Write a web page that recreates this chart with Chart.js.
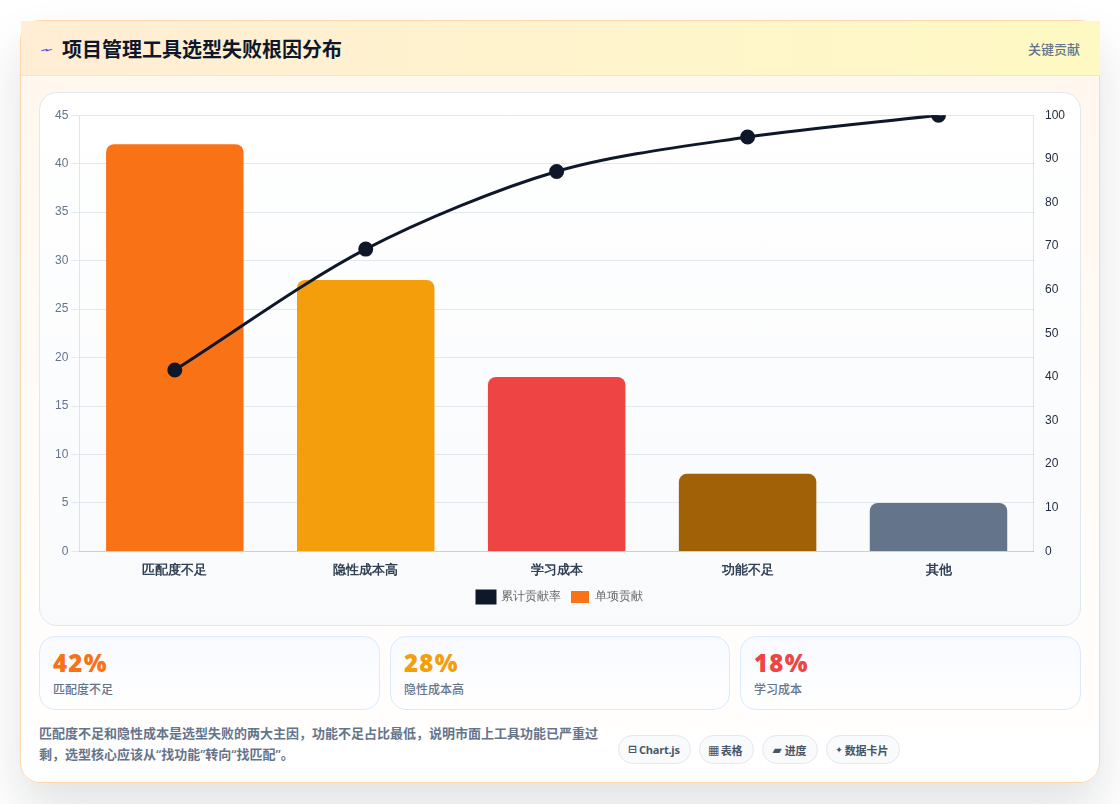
<!DOCTYPE html>
<html><head><meta charset="utf-8">
<script src="https://cdn.jsdelivr.net/npm/chart.js@4"></script>
<style>
*{box-sizing:border-box;margin:0;padding:0}
html,body{width:1120px;height:804px;overflow:hidden;background:#fff;font-family:"Open Sans","Noto Sans CJK SC",sans-serif}
.card{position:absolute;left:20px;top:20px;width:1080px;height:763px;border:1px solid #fed7aa;border-radius:20px;background:linear-gradient(180deg,#fff7ed 0%,#ffffff 100%);box-shadow:0 24px 48px rgba(15,23,42,.13)}
.head{position:absolute;left:0;top:0;width:1079px;height:55px;background:linear-gradient(90deg,#ffedd5,#fef9c3);border-bottom:1px solid #e2e8f0;display:flex;align-items:center;justify-content:space-between;padding:0 20px}
.head h1{font-size:20px;font-weight:700;color:#0f172a;line-height:1;display:flex;align-items:center;padding-top:3px}
.head h1 i{font-style:normal;font-weight:400;color:#4f46e5;margin-right:9px;font-size:20px;font-family:"DejaVu Sans";display:inline-block;transform:scale(1.1,-.5)}
.head span{font-size:13px;color:#64748b;font-weight:500}
.box{position:absolute;left:18px;top:71px;width:1042px;height:534px;border:1px solid #e2e8f0;border-radius:18px;background:linear-gradient(180deg,#fff,#f8fafc);padding:12px}
.box canvas{display:block}
.stat{position:absolute;top:615px;height:74px;border:1px solid #dbeafe;border-radius:16px;background:linear-gradient(180deg,#f8faff,#fff);padding:9px 13px}
.stat b{display:block;font-size:24px;line-height:34px;font-weight:800;letter-spacing:1.3px}
.stat span{display:block;font-size:12px;color:#64748b;line-height:18px;margin-top:1px;font-weight:500}
.note{position:absolute;left:18px;top:702px;width:566px;font-size:13px;line-height:20.8px;font-weight:600;color:#64748b}
.chips{position:absolute;left:597px;top:714px;display:flex;gap:8px}
.chips span{height:29px;border:1px solid #e2e8f0;border-radius:15px;background:#f8fafc;padding:0 10px;font-size:11px;font-weight:700;color:#475569;display:flex;align-items:center;gap:3px;white-space:nowrap}
.chips i{font-style:normal;display:flex;justify-content:center;font-family:"DejaVu Sans";font-weight:700;letter-spacing:0}
</style></head><body>
<div class="card">
 <div class="head"><h1><i>⌁</i>项目管理工具选型失败根因分布</h1><span>关键贡献</span></div>
 <div class="box"><canvas id="c" width="1016" height="508"></canvas></div>
 <div class="stat" style="left:18px;width:341px"><b style="color:#f97316">42%</b><span>匹配度不足</span></div>
 <div class="stat" style="left:369px;width:340px"><b style="color:#f59e0b">28%</b><span>隐性成本高</span></div>
 <div class="stat" style="left:719px;width:341px"><b style="color:#ef4444">18%</b><span>学习成本</span></div>
 <div class="note">匹配度不足和隐性成本是选型失败的两大主因，功能不足占比最低，说明市面上工具功能已严重过剩，选型核心应该从“找功能”转向“找匹配”。</div>
 <div class="chips"><span style="letter-spacing:-.25px"><i style="width:7px;font-size:11px">⊟</i>Chart.js</span><span><i style="width:8px;font-size:12px">▦</i>表格</span><span><i style="width:9px;font-size:12px">▰</i>进度</span><span><i style="width:5px;font-size:9px">✦</i>数据卡片</span></div>
</div>
<script>
const categories=["匹配度不足","隐性成本高","学习成本","功能不足","其他"];
const contribution=[42,28,18,8,5];
const cumulative=[41.6,69.3,87.1,95,100];
const barColors=["#f97316","#f59e0b","#ef4444","#a16207","#64748b"];
const lineColor="#0f172a";
new Chart(document.getElementById("c"),{
 data:{labels:categories,datasets:[
  {type:"line",label:"累计贡献率",data:cumulative,yAxisID:"y1",borderColor:lineColor,backgroundColor:lineColor,borderWidth:3,pointRadius:6,pointHoverRadius:6,tension:.3,order:1},
  {type:"bar",label:"单项贡献",data:contribution,yAxisID:"y",backgroundColor:barColors,borderRadius:8,order:2}
 ]},
 options:{responsive:false,animation:false,
  plugins:{legend:{position:"bottom",labels:{font:{size:12},color:"#666",boxWidth:18,boxHeight:12}},tooltip:{enabled:false}},
  scales:{
   x:{grid:{display:false},ticks:{color:"#334155",font:{size:13,weight:"700"}}},
   y:{position:"left",min:0,max:45,ticks:{stepSize:5,color:"#64748b",font:{size:12}},grid:{color:"#e2e8f0"}},
   y1:{position:"right",min:0,max:100,ticks:{stepSize:10,color:"#1e293b",font:{size:12}},grid:{display:false}}
  }}
});
</script>
</body></html>
